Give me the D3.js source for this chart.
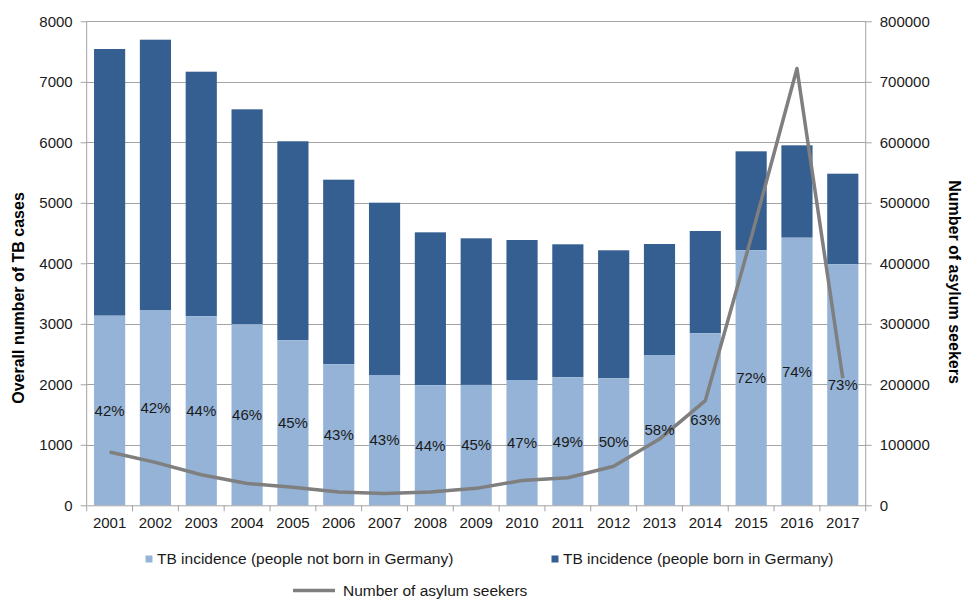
<!DOCTYPE html>
<html>
<head>
<meta charset="utf-8">
<script src="https://cdn.jsdelivr.net/npm/d3@7"></script>
<style>
  body { margin: 0; background: #fff; }
  text { font-family: "Liberation Sans", Arial, sans-serif; }
</style>
</head>
<body>
<div id="chart"></div>
<script>
var years = ["2001", "2002", "2003", "2004", "2005", "2006", "2007", "2008", "2009",
  "2010", "2011", "2012", "2013", "2014", "2015", "2016", "2017"];
var notBorn = [3134, 3228, 3124, 2992, 2727, 2331, 2154, 1985, 1990, 2071, 2116, 2099,
  2484, 2843, 4215, 4423, 3983];
var totalCases = [7542, 7696, 7167, 6545, 6017, 5382, 5002, 4512, 4413, 4385, 4314, 4215,
  4319, 4534, 5851, 5950, 5481];
var percentLabels = ["42%", "42%", "44%", "46%", "45%", "43%", "43%", "44%", "45%", "47%",
  "49%", "50%", "58%", "63%", "72%", "74%", "73%"];
var asylum = [88000, 71000, 50500, 36000, 30000, 22000, 19500, 22000, 28000, 41000, 45500,
  64500, 109500, 173000, 442000, 722000, 210000];
var leftTicks = [0, 1000, 2000, 3000, 4000, 5000, 6000, 7000, 8000];
var rightTicks = [0, 100000, 200000, 300000, 400000, 500000, 600000, 700000, 800000];

var width = 963;
var height = 599;
var plotLeft = 86.7, plotRight = 865.7, plotTop = 21.3, plotBottom = 505.3;

var darkBlue = "#365f91";
var lightBlue = "#95b3d7";
var gridColor = "#a3a3a3";
var lineColor = "#7f7f7f";
var textColor = "#1a1a1a";

var svg = d3.select("#chart")
  .append("svg")
  .attr("width", width)
  .attr("height", height);

/* Scales */
var x = d3.scaleBand()
  .domain(years)
  .range([plotLeft, plotRight])
  .paddingInner(0.32)
  .paddingOuter(0.16);

var y = d3.scaleLinear().domain([0, 8000]).range([plotBottom, plotTop]);
var y2 = d3.scaleLinear().domain([0, 800000]).range([plotBottom, plotTop]);

/* Gridlines */
svg.append("g")
  .selectAll("line")
  .data(leftTicks.slice(1))
  .enter()
  .append("line")
  .attr("x1", plotLeft)
  .attr("x2", plotRight)
  .attr("y1", (d) => Math.round(y(d)) + 0.5)
  .attr("y2", (d) => Math.round(y(d)) + 0.5)
  .attr("stroke", gridColor)
  .attr("stroke-width", 1);

/* Stacked bars */
var data = years.map(function (yr, i) {
  return { year: yr, notBorn: notBorn[i], total: totalCases[i], label: percentLabels[i], asylum: asylum[i] };
});

svg.append("g")
  .selectAll("rect")
  .data(data)
  .enter()
  .append("rect")
  .attr("x", (d) => x(d.year))
  .attr("width", x.bandwidth())
  .attr("y", (d) => y(d.total))
  .attr("height", (d) => y(d.notBorn) - y(d.total))
  .attr("fill", darkBlue);

svg.append("g")
  .selectAll("rect")
  .data(data)
  .enter()
  .append("rect")
  .attr("x", (d) => x(d.year))
  .attr("width", x.bandwidth())
  .attr("y", (d) => y(d.notBorn))
  .attr("height", (d) => y(0) - y(d.notBorn))
  .attr("fill", lightBlue);

/* Axes */
var xAxis = d3.axisBottom(x).tickSize(0).tickPadding(12);
var gx = svg.append("g")
  .attr("transform", `translate(0, ${plotBottom})`)
  .call(xAxis);
gx.select(".domain").attr("stroke", gridColor);
gx.selectAll("text").attr("font-size", 15).attr("fill", textColor);

/* x tick marks between categories */
var boundaries = years.map((d) => x(d) - x.step() * x.paddingInner() / 2);
boundaries.push(plotRight);
gx.append("g")
  .selectAll("line")
  .data(boundaries)
  .enter()
  .append("line")
  .attr("x1", (d) => d)
  .attr("x2", (d) => d)
  .attr("y1", 0)
  .attr("y2", 6)
  .attr("stroke", gridColor);

var yAxis = d3.axisLeft(y).tickValues(leftTicks).tickFormat(d3.format("d")).tickSize(6).tickPadding(8);
var gy = svg.append("g")
  .attr("transform", `translate(${plotLeft}, 0)`)
  .call(yAxis);
gy.select(".domain").attr("stroke", gridColor).attr("d", `M0,${plotTop}V${plotBottom}`);
gy.selectAll(".tick line").attr("stroke", gridColor);
gy.selectAll("text").attr("font-size", 15).attr("fill", textColor);

var yAxis2 = d3.axisRight(y2).tickValues(rightTicks).tickFormat(d3.format("d")).tickSize(6).tickPadding(8);
var gy2 = svg.append("g")
  .attr("transform", `translate(${plotRight}, 0)`)
  .call(yAxis2);
gy2.select(".domain").attr("stroke", gridColor).attr("d", `M0,${plotTop}V${plotBottom}`);
gy2.selectAll(".tick line").attr("stroke", gridColor);
gy2.selectAll("text").attr("font-size", 15).attr("fill", textColor);

/* Axis titles */
svg.append("text")
  .attr("transform", "translate(18, 298) rotate(-90)")
  .attr("dy", "0.35em")
  .attr("text-anchor", "middle")
  .attr("font-size", 16)
  .attr("font-weight", "bold")
  .attr("fill", "#000")
  .text("Overall number of TB cases");

svg.append("text")
  .attr("transform", "translate(955, 282) rotate(90)")
  .attr("dy", "0.35em")
  .attr("text-anchor", "middle")
  .attr("font-size", 16)
  .attr("font-weight", "bold")
  .attr("fill", "#000")
  .text("Number of asylum seekers");

/* Asylum seekers line */
var line = d3.line()
  .x((d) => x(d.year) + x.bandwidth() / 2)
  .y((d) => y2(d.asylum));

svg.append("path")
  .datum(data)
  .attr("d", line)
  .attr("fill", "none")
  .attr("stroke", lineColor)
  .attr("stroke-width", 3.5)
  .attr("stroke-linejoin", "round");

/* Percentage labels */
svg.append("g")
  .selectAll("text")
  .data(data)
  .enter()
  .append("text")
  .attr("x", (d) => x(d.year) + x.bandwidth() / 2)
  .attr("y", (d) => y(d.notBorn / 2))
  .attr("dy", "0.35em")
  .attr("text-anchor", "middle")
  .attr("font-size", 15)
  .attr("fill", textColor)
  .text((d) => d.label);

/* Legend */
var legend = svg.append("g").attr("font-size", 15.5).attr("fill", textColor);
legend.append("rect").attr("x", 145.5).attr("y", 555.5).attr("width", 7).attr("height", 7).attr("fill", lightBlue);
legend.append("text").attr("x", 157).attr("y", 559).attr("dy", "0.35em")
  .text("TB incidence (people not born in Germany)");
legend.append("rect").attr("x", 551.5).attr("y", 555.5).attr("width", 7).attr("height", 7).attr("fill", darkBlue);
legend.append("text").attr("x", 563).attr("y", 559).attr("dy", "0.35em")
  .text("TB incidence (people born in Germany)");
legend.append("line").attr("x1", 293).attr("x2", 335).attr("y1", 590.5).attr("y2", 590.5)
  .attr("stroke", lineColor).attr("stroke-width", 3.5);
legend.append("text").attr("x", 343).attr("y", 591).attr("dy", "0.35em")
  .text("Number of asylum seekers");
</script>
</body>
</html>
